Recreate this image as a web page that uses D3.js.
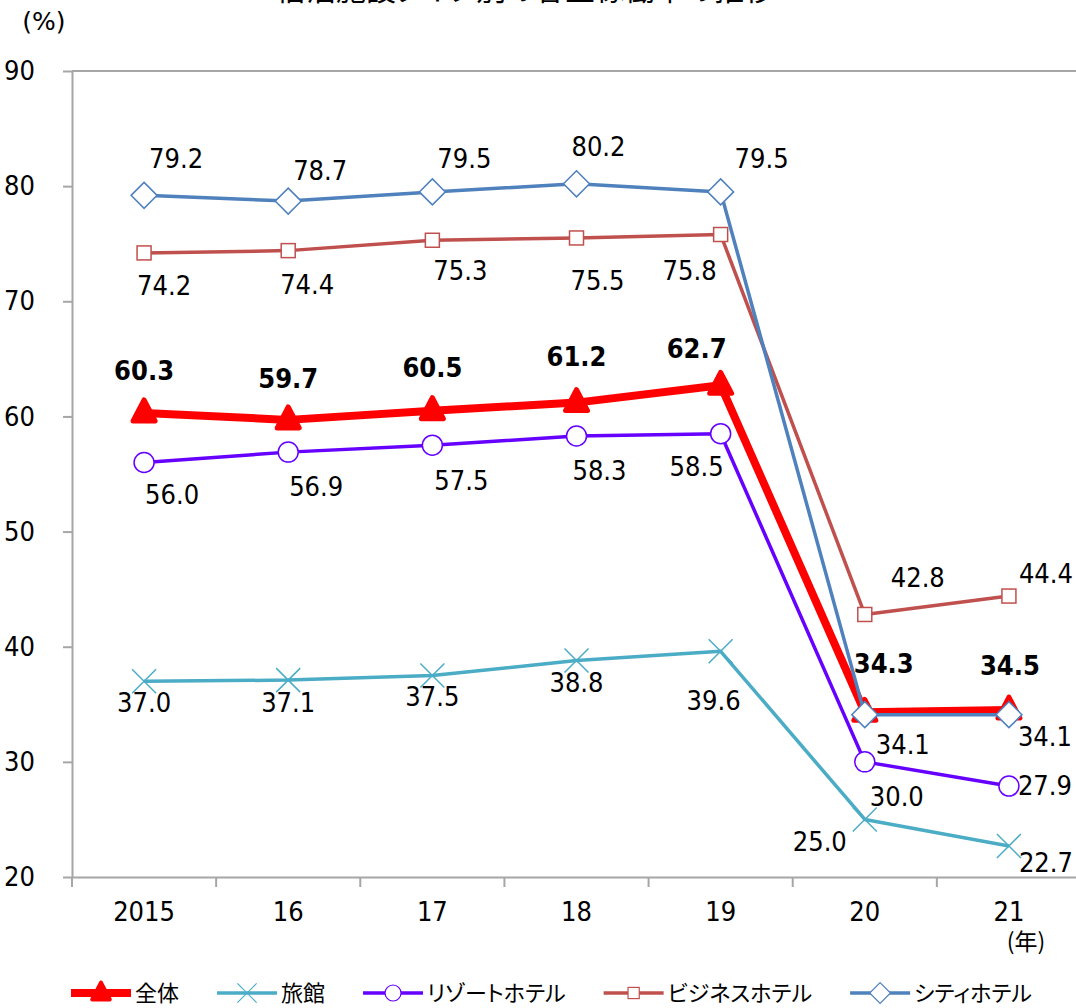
<!DOCTYPE html>
<html>
<head>
<meta charset="utf-8">
<script src="https://cdn.jsdelivr.net/npm/d3@7"></script>
<style>
  body { margin: 0; background: #fff; }
  svg { display: block; }
  .num { font-family: 'DejaVu Sans Condensed', 'Liberation Sans', sans-serif; font-stretch: condensed; }
  .jp { font-family: 'Noto Sans CJK JP', sans-serif; font-feature-settings: "palt"; }
</style>
</head>
<body>
<div id="chart"></div>
<script>
const years = ['2015', '16', '17', '18', '19', '20', '21']
const yTicks = [20, 30, 40, 50, 60, 70, 80, 90]
const seriesNames = ['全体', '旅館', 'リゾートホテル', 'ビジネスホテル', 'シティホテル']
const allTypes = [60.3, 59.7, 60.5, 61.2, 62.7, 34.3, 34.5]
const ryokan = [37.0, 37.1, 37.5, 38.8, 39.6, 25.0, 22.7]
const resort = [56.0, 56.9, 57.5, 58.3, 58.5, 30.0, 27.9]
const business = [74.2, 74.4, 75.3, 75.5, 75.8, 42.8, 44.4]
const city = [79.2, 78.7, 79.5, 80.2, 79.5, 34.1, 34.1]

const W = 1076, H = 1008

const svg = d3.select('#chart').append('svg')
    .attr('width', W)
    .attr('height', H)

const x = d3.scaleBand()
    .domain(years)
    .range([72, 1081])
    .padding(0)

const y = d3.scaleLinear()
    .domain([20, 90])
    .range([877, 71])

// label offsets from the point, by series (hand placed like the original)
const series = [
    { name: seriesNames[0], values: allTypes, color: '#ff0000', width: 8, marker: 'triangle', bold: true,
      off: [[0, -43], [0, -42], [0, -43], [0, -46], [-24, -37], [19, -49], [1, -45]] },
    { name: seriesNames[1], values: ryokan, color: '#4bacc6', width: 3.5, marker: 'x',
      off: [[0, 21], [0, 22], [0, 21], [0, 22], [-7, 49], [-45, 22], [37, 16]] },
    { name: seriesNames[2], values: resort, color: '#6600ff', width: 3.5, marker: 'circle',
      off: [[28, 32], [28, 34], [29, 35], [23, 34], [-24, 33], [32, 34], [36, -1]] },
    { name: seriesNames[3], values: business, color: '#c0504d', width: 3.5, marker: 'square',
      off: [[20, 32], [19, 34], [28, 30], [21, 42], [-31, 36], [53, -37], [37, -23]] },
    { name: seriesNames[4], values: city, color: '#4f81bd', width: 3.5, marker: 'diamond',
      off: [[32, -37], [32, -31], [32, -34], [22, -38], [41, -34], [38, 30], [36, 22]] }
]

// title, mostly cut off above the frame
svg.append('text')
    .attr('class', 'jp')
    .attr('x', 525)
    .attr('y', 0)
    .attr('text-anchor', 'middle')
    .style('font-size', '30px')
    .text('宿泊施設タイプ別の客室稼働率の推移')

svg.append('text')
    .attr('x', 44)
    .attr('y', 21)
    .attr('dy', '0.35em')
    .attr('text-anchor', 'middle')
    .style('font-family', "'DejaVu Sans', sans-serif")
    .style('font-size', '25px')
    .text('(%)')

// top border line at 90
svg.append('line')
    .attr('x1', 72).attr('x2', W)
    .attr('y1', y(90)).attr('y2', y(90))
    .attr('stroke', '#a6a6a6').attr('stroke-width', 2)

const yAxis = svg.append('g')
    .attr('transform', 'translate(72,0)')
    .call(d3.axisLeft(y).tickValues(yTicks).tickSize(9).tickSizeOuter(0).tickPadding(28))
yAxis.select('.domain').attr('stroke', '#a6a6a6').attr('stroke-width', 2)
yAxis.selectAll('.tick line').attr('stroke', '#a6a6a6').attr('stroke-width', 2)
yAxis.selectAll('.tick text')
    .attr('class', 'num')
    .style('font-size', '27px')
    .attr('fill', '#000')

const xAxis = svg.append('g')
    .attr('transform', 'translate(0,877)')
    .call(d3.axisBottom(x).tickSize(0).tickPadding(36))
xAxis.select('.domain').attr('stroke', '#a6a6a6').attr('stroke-width', 2)
xAxis.selectAll('.tick text')
    .attr('class', 'num')
    .attr('dy', '0')
    .attr('dominant-baseline', 'middle')
    .style('font-size', '27px')
    .attr('fill', '#000')

// category boundary ticks
svg.append('g').selectAll('line')
    .data(years)
    .enter()
    .append('line')
    .attr('x1', d => x(d)).attr('x2', d => x(d))
    .attr('y1', 877).attr('y2', 887)
    .attr('stroke', '#a6a6a6').attr('stroke-width', 2)

svg.append('text')
    .attr('class', 'jp')
    .attr('x', 1026)
    .attr('y', 942)
    .attr('dy', '0.35em')
    .attr('text-anchor', 'middle')
    .style('font-size', '23px')
    .text('(年)')

const cx = (_, i) => x(years[i]) + x.bandwidth() / 2

function drawMarker(g, type, color) {
    if (type === 'triangle') {
        g.append('path').attr('d', 'M0,-13L11,8L-11,8Z')
            .attr('fill', color).attr('stroke', color)
            .attr('stroke-width', 5).attr('stroke-linejoin', 'round')
    } else if (type === 'x') {
        g.append('path').attr('d', 'M-12,-12L12,12M-12,12L12,-12')
            .attr('stroke', color).attr('stroke-width', 1.5).attr('fill', 'none')
    } else if (type === 'circle') {
        g.append('circle').attr('r', 10)
            .attr('fill', '#fff').attr('stroke', color).attr('stroke-width', 1.5)
    } else if (type === 'square') {
        g.append('rect').attr('x', -7).attr('y', -7).attr('width', 14).attr('height', 14)
            .attr('fill', '#fff').attr('stroke', color).attr('stroke-width', 1.5)
    } else if (type === 'diamond') {
        g.append('path').attr('d', 'M0,-13L13,0L0,13L-13,0Z')
            .attr('fill', '#fff').attr('stroke', color).attr('stroke-width', 1.5)
    }
}

const line = d3.line()
    .x(cx)
    .y(d => y(d))

const plot = svg.append('g')
series.forEach(s => {
    const g = plot.append('g')
    g.append('path')
        .datum(s.values)
        .attr('d', line)
        .attr('fill', 'none')
        .attr('stroke', s.color)
        .attr('stroke-width', s.width)
        .attr('stroke-linejoin', 'round')
    g.selectAll('.mk')
        .data(s.values)
        .enter()
        .append('g')
        .attr('transform', (d, i) => 'translate(' + cx(d, i) + ',' + y(d) + ')')
        .each(function () { drawMarker(d3.select(this), s.marker, s.color) })
})

const labels = svg.append('g')
series.forEach(s => {
    labels.selectAll(null)
        .data(s.values)
        .enter()
        .append('text')
        .attr('class', 'num')
        .attr('x', (d, i) => cx(d, i) + s.off[i][0])
        .attr('y', (d, i) => y(d) + s.off[i][1])
        .attr('dy', '0.36em')
        .attr('text-anchor', 'middle')
        .style('font-size', '27px')
        .style('font-weight', s.bold ? 'bold' : 'normal')
        .text(d => d.toFixed(1))
})

// legend
const legend = svg.append('g').attr('transform', 'translate(0,993)')
let lx = 71
series.forEach(s => {
    const item = legend.append('g').attr('transform', 'translate(' + lx + ',0)')
    item.append('line')
        .attr('x1', 0).attr('x2', 60)
        .attr('stroke', s.color).attr('stroke-width', s.width)
    const m = item.append('g').attr('transform', 'translate(30,0) scale(0.8)')
    drawMarker(m, s.marker, s.color)
    const t = item.append('text')
        .attr('class', 'jp')
        .attr('x', 64)
        .attr('dy', '0.35em')
        .style('font-size', '22px')
        .text(s.name)
    lx += 64 + t.node().getComputedTextLength() + 38
})
</script>
</body>
</html>
